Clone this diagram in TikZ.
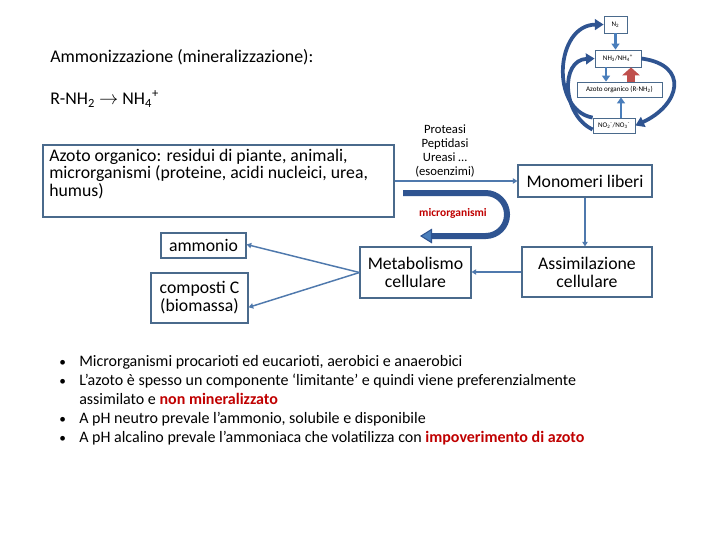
\documentclass[tikz,border=0pt]{standalone}
\usepackage{fontspec}
\setmainfont{Carlito}
\usetikzlibrary{arrows.meta}
\definecolor{boxc}{HTML}{4A6A8C}
\definecolor{conn}{HTML}{4F79AD}
\definecolor{dkb}{HTML}{2F5491}
\definecolor{midb}{HTML}{4A7EBB}
\definecolor{redA}{HTML}{C0504D}
\definecolor{redT}{HTML}{C00000}
\begin{document}
\begin{tikzpicture}[x=0.75pt,y=-0.75pt,
  box/.style={draw=boxc,line width=0.8pt,fill=white,inner sep=0pt,align=center,
    font=\fontsize{13.3}{13.5}\selectfont},
  tbox/.style={draw=boxc,line width=0.6pt,fill=white,inner sep=0pt,
    font=\fontsize{5.3}{6}\selectfont},
  thinarr/.style={draw=conn,line width=1.1pt,-{Triangle[length=3.5pt,width=4pt]}},
  cyc/.style={draw=dkb,line width=2.8pt,-{Triangle[length=6.5pt,width=8pt]}},
  shortarr/.style={draw=midb,line width=2.2pt,-{Triangle[length=4.5pt,width=6pt]}},
  redarr/.style={draw=redA,line width=5.5pt,-{Triangle[length=6pt,width=13pt]}},
  plain/.style={inner sep=0pt,anchor=mid west},
  bul/.style={inner sep=0pt,anchor=mid west,font=\fontsize{12}{14}\selectfont},
  dot/.style={inner sep=0pt,anchor=mid west,font=\fontsize{10}{12}\selectfont},
]
\useasboundingbox (0,0) rectangle (720,540);
\fill[white] (0,0) rectangle (720,540);

% headings
\node[plain,font=\fontsize{13.4}{15}\selectfont] (title) at (50,59) {Ammonizzazione (mineralizzazione):};
\node[plain,font=\fontsize{13.4}{15}\selectfont] (rnh) at (50,101) {R-NH\textsubscript{2} $\rightarrow$ NH\textsubscript{4}\textsuperscript{+}};

% main boxes
\node[box,minimum width=263.25pt,minimum height=54pt] (azo) at (218.5,181) {};
\node[inner sep=0pt,anchor=west,align=left,font=\fontsize{13.3}{11.6}\selectfont] (azotxt) at (49,174)
  {Azoto organico: residui di piante, animali,\\ microrganismi (proteine, acidi nucleici, urea,\\ humus)};
\node[box,minimum width=63.75pt,minimum height=18.75pt] (amm) at (203.5,245.5) {ammonio};
\node[box,minimum width=72.75pt,minimum height=37.5pt] (comp) at (199.5,298) {composti C\\(biomassa)};
\node[box,minimum width=83.25pt,minimum height=38.25pt] (meta) at (415.5,272.5) {Metabolismo\\cellulare};
\node[box,minimum width=100.5pt,minimum height=24pt] (mono) at (585,181) {Monomeri liberi};
\node[box,minimum width=97.5pt,minimum height=37.5pt] (assim) at (587,272) {Assimilazione\\cellulare};

% enzyme label
\node[inner sep=0pt,align=center,font=\fontsize{9.5}{10.5}\selectfont] (enz) at (445,151)
  {Proteasi\\Peptidasi\\Ureasi \ldots\\(esoenzimi)};

% connectors
\draw[thinarr] (azo.east) -- (mono.west);
\draw[thinarr] (mono.south) -- (mono.south |- assim.north);
\draw[thinarr] (assim.west) -- (assim.west -| meta.east);
\draw[thinarr] (meta.west) -- ([yshift=0.75pt]amm.east);
\draw[thinarr] (meta.west) -- ([yshift=-7pt]comp.east);

% U arrow (microrganismi)
\coordinate (u1) at (403,193);
\coordinate (u2) at (507,193);
\coordinate (u3) at (507,236);
\coordinate (u4) at (420,236);
\draw[draw=dkb,line width=4.5pt,rounded corners=16pt,
  -{Triangle[length=9pt,width=11pt,fill=midb,line width=0.8pt]}] (u1) -- (u2) -- (u3) -- (u4);
\node[inner sep=0pt,text=redT,font=\bfseries\fontsize{8.6}{10}\selectfont] (micro) at (453,213) {microrganismi};

% top-right cycle
\node[tbox,minimum width=17.25pt,minimum height=12.75pt] (n2) at (615.5,24.5) {N\textsubscript{2}};
\node[tbox,minimum width=34.5pt,minimum height=12.75pt] (nh) at (618,58.5) {NH\textsubscript{3}/NH\textsubscript{4}\textsuperscript{+}};
\node[tbox,minimum width=63.75pt,minimum height=11.25pt] (azr) at (619.5,89.5) {Azoto organico (R-NH\textsubscript{2})};
\node[tbox,minimum width=31.5pt,minimum height=11.25pt] (no) at (614,125.5) {NO\textsubscript{2}\textsuperscript{-}/NO\textsubscript{3}\textsuperscript{-}};

\draw[shortarr] (n2.south) -- (n2.south |- nh.north);
\draw[shortarr] ([xshift=-9pt]nh.south) -- ([xshift=-9pt]nh.south |- azr.north);
\draw[redarr] ([xshift=9.75pt]nh.south |- azr.north) -- ([xshift=9.75pt]nh.south);
\draw[shortarr] ([xshift=5.25pt]no.north) -- ([xshift=5.25pt]no.north |- azr.south);
\draw[cyc] (no.north west) .. controls (550,110) and (555,25) .. (n2.west);
\draw[cyc] ([yshift=-3pt]no.west) .. controls (562,115) and (560,60) .. (nh.west);
\draw[cyc] (nh.east) .. controls (690,65) and (680,105) .. (no.east);

% bullets
\foreach \yy/\nm in {363/d1,382/d2,420/d4,439/d5} {\node[dot] (\nm) at (59,\yy) {•};}
\node[bul] (b1) at (79,363) {Microrganismi procarioti ed eucarioti, aerobici e anaerobici};
\node[bul] (b2) at (79,382) {L’azoto è spesso un componente ‘limitante’ e quindi viene preferenzialmente};
\node[bul] (b3) at (79,401) {assimilato e \textcolor{redT}{\bfseries non mineralizzato}};
\node[bul] (b4) at (79,420) {A pH neutro prevale l’ammonio, solubile e disponibile};
\node[bul] (b5) at (79,439) {A pH alcalino prevale l’ammoniaca che volatilizza con \textcolor{redT}{\bfseries impoverimento di azoto}};
\end{tikzpicture}
\end{document}
